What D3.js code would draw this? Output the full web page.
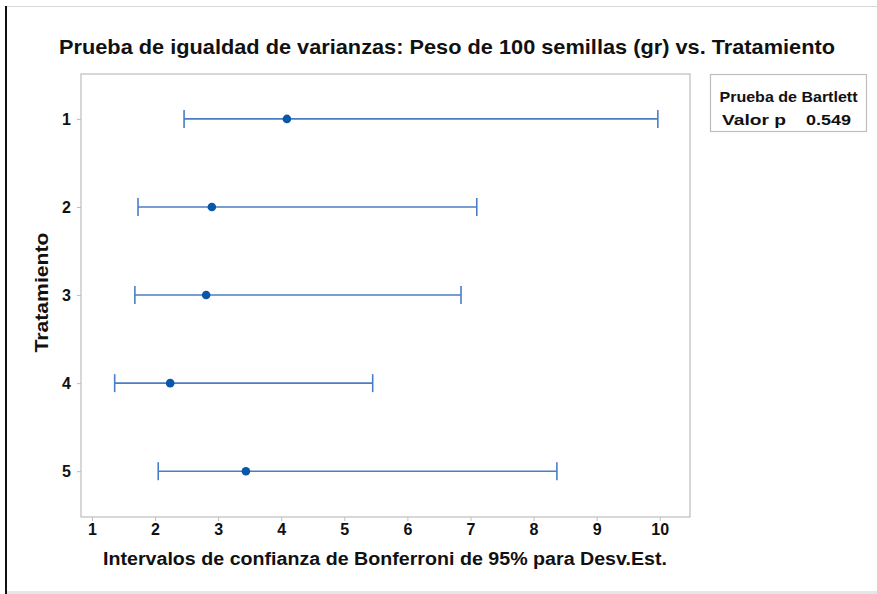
<!DOCTYPE html>
<html><head><meta charset="utf-8">
<script src="https://cdn.jsdelivr.net/npm/d3@7/dist/d3.min.js"></script>
<style>
html,body{margin:0;padding:0;background:#fff;}
svg{display:block;font-family:"Liberation Sans",Arial,sans-serif;}
</style></head>
<body>
<svg id="chart" width="877" height="594"></svg>
<script>
const categories = ["1","2","3","4","5"];
const lowerCI = [2.46, 1.73, 1.68, 1.36, 2.05];
const stdev   = [4.09, 2.90, 2.81, 2.24, 3.44];
const upperCI = [9.97, 7.10, 6.85, 5.45, 8.37];
const xTicks = [1,2,3,4,5,6,7,8,9,10];
const titleText = "Prueba de igualdad de varianzas: Peso de 100 semillas (gr) vs. Tratamiento";
const xLabel = "Intervalos de confianza de Bonferroni de 95% para Desv.Est.";
const yLabel = "Tratamiento";
const legendTitle = "Prueba de Bartlett";
const legendKey = "Valor p";
const pValue = "0.549";

const svg = d3.select("#chart");
const W = 877, H = 594;
const FONT = "'Liberation Sans',Arial,sans-serif";

// screenshot frame artifacts
svg.append("rect").attr("x",0).attr("y",0).attr("width",W).attr("height",H).attr("fill","#fff");
svg.append("line").attr("x1",7).attr("x2",W).attr("y1",6.5).attr("y2",6.5).attr("stroke","#d8d8d8").attr("stroke-width",1);
svg.append("rect").attr("x",5).attr("y",6).attr("width",2).attr("height",H-6).attr("fill","#111");
svg.append("rect").attr("x",7).attr("y",591).attr("width",W-7).attr("height",3).attr("fill","#e6e6e6");

const plot = {left:81, top:74, right:690, bottom:517};

const x = d3.scaleLinear().domain([0.826, 10.48]).range([plot.left, plot.right]);
const y = d3.scaleLinear().domain([0.49, 5.52]).range([plot.top, plot.bottom]);

// frame
svg.append("rect").attr("x",plot.left).attr("y",plot.top)
  .attr("width",plot.right-plot.left).attr("height",plot.bottom-plot.top)
  .attr("fill","none").attr("stroke","#bdbdbd").attr("stroke-width",1.2);

// x axis
const xAxis = d3.axisBottom(x).tickValues(xTicks).tickSize(4).tickPadding(3).tickFormat(d3.format("d"));
const gx = svg.append("g").attr("transform",`translate(0,${plot.bottom})`).call(xAxis)
  .attr("font-size",16).attr("font-family",FONT);
gx.select(".domain").remove();
gx.selectAll(".tick line").attr("stroke","#bdbdbd");
gx.selectAll(".tick text").attr("fill","#111").style("font-size","16px").style("font-weight","bold");

// y axis
const yAxis = d3.axisLeft(y).tickValues(categories.map(Number)).tickSize(4).tickPadding(6).tickFormat(d=>String(d));
const gy = svg.append("g").attr("transform",`translate(${plot.left},0)`).call(yAxis)
  .attr("font-size",16).attr("font-family",FONT);
gy.select(".domain").remove();
gy.selectAll(".tick line").attr("stroke","#bdbdbd");
gy.selectAll(".tick text").attr("fill","#111").style("font-size","16px").style("font-weight","bold");

// error bars
const data = categories.map((c,i)=>({c:+c, lo:lowerCI[i], s:stdev[i], hi:upperCI[i]}));
const lineColor = "#4a7ec4";
const g = svg.append("g");
const capH = 9;
g.selectAll("line.bar").data(data).join("line").attr("class","bar")
  .attr("x1",d=>x(d.lo)).attr("x2",d=>x(d.hi)).attr("y1",d=>y(d.c)).attr("y2",d=>y(d.c))
  .attr("stroke",lineColor).attr("stroke-width",1.6);
g.selectAll("line.capL").data(data).join("line").attr("class","capL")
  .attr("x1",d=>x(d.lo)).attr("x2",d=>x(d.lo)).attr("y1",d=>y(d.c)-capH).attr("y2",d=>y(d.c)+capH)
  .attr("stroke",lineColor).attr("stroke-width",1.6);
g.selectAll("line.capR").data(data).join("line").attr("class","capR")
  .attr("x1",d=>x(d.hi)).attr("x2",d=>x(d.hi)).attr("y1",d=>y(d.c)-capH).attr("y2",d=>y(d.c)+capH)
  .attr("stroke",lineColor).attr("stroke-width",1.6);
g.selectAll("circle").data(data).join("circle")
  .attr("cx",d=>x(d.s)).attr("cy",d=>y(d.c)).attr("r",4.3).attr("fill","#0a56a8");

// title
svg.append("text").attr("x",447).attr("y",54).attr("text-anchor","middle")
  .attr("font-size",21).attr("font-weight","bold").attr("fill","#111")
  .attr("textLength",776).attr("lengthAdjust","spacingAndGlyphs").text(titleText);

// x label
svg.append("text").attr("x",385).attr("y",565).attr("text-anchor","middle")
  .attr("font-size",18).attr("font-weight","bold").attr("fill","#111")
  .attr("textLength",564).attr("lengthAdjust","spacingAndGlyphs").text(xLabel);

// y label
svg.append("text").attr("transform",`translate(48,${(plot.top+plot.bottom)/2 - 3}) rotate(-90)`)
  .attr("text-anchor","middle").attr("font-size",18).attr("font-weight","bold").attr("fill","#111")
  .attr("textLength",120).attr("lengthAdjust","spacingAndGlyphs").text(yLabel);

// legend box
const lg = svg.append("g");
lg.append("rect").attr("x",710.5).attr("y",74.5).attr("width",156).attr("height",57)
  .attr("fill","#fff").attr("stroke","#bdbdbd").attr("stroke-width",1.2);
lg.append("text").attr("x",788.5).attr("y",102).attr("text-anchor","middle")
  .attr("font-size",14).attr("font-weight","bold").attr("fill","#111")
  .attr("textLength",138).attr("lengthAdjust","spacingAndGlyphs").text(legendTitle);
lg.append("text").attr("x",722).attr("y",125).attr("text-anchor","start")
  .attr("font-size",14).attr("font-weight","bold").attr("fill","#111")
  .attr("textLength",64).attr("lengthAdjust","spacingAndGlyphs").text(legendKey);
lg.append("text").attr("x",806).attr("y",125).attr("text-anchor","start")
  .attr("font-size",14).attr("font-weight","bold").attr("fill","#111")
  .attr("textLength",45).attr("lengthAdjust","spacingAndGlyphs").text(pValue);
</script>
</body></html>
